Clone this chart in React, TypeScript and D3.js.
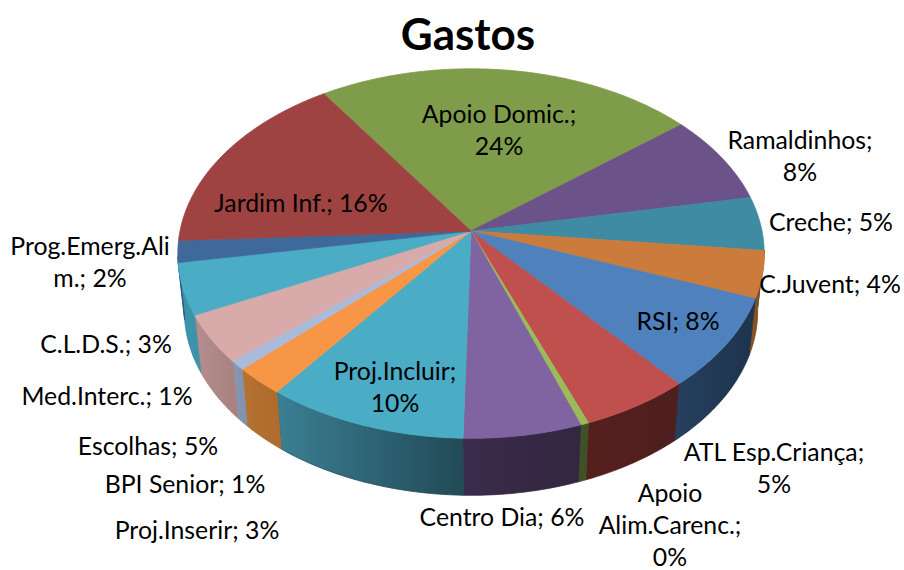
import React, { useMemo } from "react";
import * as d3 from "d3";

const categories = ["Apoio Domic.","Ramaldinhos","Creche","C.Juvent","RSI","ATL Esp.Criança","Apoio Alim.Carenc.","Centro Dia","Proj.Incluir","Proj.Inserir","BPI Senior","Escolhas","Med.Interc.","C.L.D.S.","Prog.Emerg.Alim.","Jardim Inf."];
const shares = [23.6,7.8,4.7,4.1,8.0,5.4,0.4,5.8,9.9,2.5,0.8,4.2,1.3,3.2,1.9,16.4];

const topColors = ["#7F9C4A","#6B5288","#3E8BA3","#CB7B3B","#4F81BD","#C0504D","#9BBB59","#8064A2","#4BACC6","#F79646","#A9BBDB","#D9AAAA","#4BACC6","#4BACC6","#3F689B","#9E4341"];
const wallStart = ["#5d7236","#4e3b63","#2d6577","#8f5626","#26405f","#561f1e","#415426","#3a2c4c","#3a7f93","#b57230","#8898b0","#b48e8e","#3a93aa","#3a93aa","#305078","#753230"];
const wallEnd = ["#5d7236","#4e3b63","#2d6577","#7a4a1e","#1e334c","#4d1f1e","#3d4f24","#33263f","#224a57","#ad6c2d","#8291aa","#a98080","#3a93aa","#3a93aa","#305078","#753230"];

const labelLines = [["Apoio Domic.;","24%"],["Ramaldinhos;","8%"],["Creche; 5%"],["C.Juvent; 4%"],["RSI; 8%"],["ATL Esp.Criança;","5%"],["Apoio","Alim.Carenc.;","0%"],["Centro Dia; 6%"],["Proj.Incluir;","10%"],["Proj.Inserir; 3%"],["BPI Senior; 1%"],["Escolhas; 5%"],["Med.Interc.; 1%"],["C.L.D.S.; 3%"],["Prog.Emerg.Ali","m.; 2%"],["Jardim Inf.; 16%"]];
const labelAnchorX = [499,800,831,830,678,774,670,502,395,197,185,148,107,106,90,301];
const labelAnchorY = [114,140,222,284,321,452,493,517,371,530,484,446,396,344,246,203];

const W = 904, H = 570;
const cx = 471, cy = 231;
const R = 291, S = 182, K = 0.122, DEPTH = 57, XSHRINK = 0.978;
const START = (-33.9 * Math.PI) / 180;
const WALL_A = (96 * Math.PI) / 180, WALL_B = (262 * Math.PI) / 180;

const xScale = d3.scaleLinear().domain([-1, 1]).range([cx - R, cx + R]);
const yScale = d3.scaleLinear().domain([-1, 1]).range([cy + S, cy - S]);

const project = (a: number): [number, number] => {
  const w = 1 + K * Math.cos(a);
  return [xScale(Math.sin(a) / w), yScale(Math.cos(a) / w)];
};
const projectBase = (a: number): [number, number] => {
  const [x, y] = project(a);
  return [cx + (x - cx) * XSHRINK, y + DEPTH];
};
const samples = (a0: number, a1: number) => {
  const n = Math.max(2, Math.ceil(Math.abs(a1 - a0) / 0.01));
  return d3.range(n + 1).map((i) => a0 + ((a1 - a0) * i) / n);
};
const line = d3.line<[number, number]>();

export default function App() {
  const arcs = useMemo(
    () => d3.pie<number>().sort(null).startAngle(START).endAngle(START + 2 * Math.PI)(shares),
    []
  );
  return (
    <svg width={W} height={H} viewBox={`0 0 ${W} ${H}`} style={{ position: "absolute", left: 0, top: 0, background: "#fff" }}>
      <defs>
        {categories.map((c, i) => (
          <linearGradient key={c} id={`wall${i}`} x1="0" x2="1" y1="0" y2="0">
            <stop offset="0" stopColor={wallStart[i]} />
            <stop offset="1" stopColor={wallEnd[i]} />
          </linearGradient>
        ))}
      </defs>
      <g>
        {arcs.map((d, i) => {
          const a0 = Math.max(d.startAngle, WALL_A), a1 = Math.min(d.endAngle, WALL_B);
          if (a1 <= a0) return null;
          const s = samples(a0, a1);
          const pts = [...s.map(project), ...s.slice().reverse().map(projectBase)];
          return <path key={i} d={line(pts) + "Z"} fill={`url(#wall${i})`} stroke={wallEnd[i]} strokeWidth={0.8} />;
        })}
      </g>
      <g>
        {arcs.map((d, i) => {
          const pts: [number, number][] = [[cx, cy], ...samples(d.startAngle, d.endAngle).map(project)];
          return <path key={i} d={line(pts) + "Z"} fill={topColors[i]} stroke={topColors[i]} strokeWidth={0.8} />;
        })}
      </g>
      <text x={468} y={50} textAnchor="middle" fontFamily="Lato" fontWeight={700} fontSize={44} fill="#000">Gastos</text>
      <g fontFamily="Lato" fontSize={24.8} fill="#000" textAnchor="middle">
        {labelLines.map((lines, i) =>
          lines.map((t, j) => (
            <text key={t + j} x={labelAnchorX[i]} y={labelAnchorY[i] + j * 32} dy="0.35em">{t}</text>
          ))
        )}
      </g>
    </svg>
  );
}
